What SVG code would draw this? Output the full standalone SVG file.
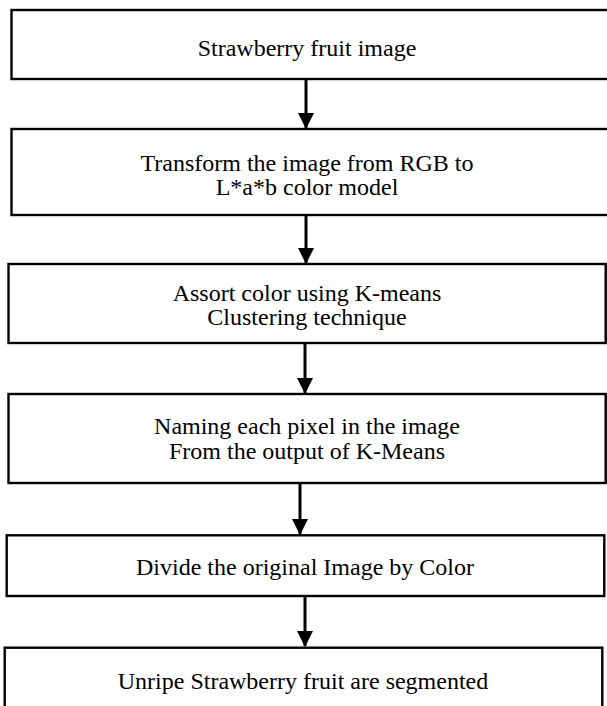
<svg xmlns="http://www.w3.org/2000/svg" width="607" height="706" viewBox="0 0 607 706">
  <defs>
    <style>
      .box { fill: #ffffff; stroke: #000000; stroke-width: 2.4; }
      .lbl { font-family: "Liberation Serif", "Times New Roman", serif; font-size: 24px; fill: #000000; text-anchor: middle; }
      .edge { stroke: #000000; stroke-width: 3; fill: none; marker-end: url(#head); }
    </style>
    <marker id="head" markerUnits="userSpaceOnUse" markerWidth="16" markerHeight="16" viewBox="0 0 16 16" refX="15" refY="8" orient="auto">
      <path d="M0,0 L16,8 L0,16 Z" fill="#000000"/>
    </marker>
  </defs>
  <rect width="607" height="706" fill="#ffffff"/>

  <g id="connectors">
    <line class="edge" x1="306" y1="79" x2="306" y2="128"/>
    <line class="edge" x1="306" y1="215" x2="306" y2="263"/>
    <line class="edge" x1="305" y1="343" x2="305" y2="393"/>
    <line class="edge" x1="300" y1="483" x2="300" y2="534"/>
    <line class="edge" x1="305" y1="596" x2="305" y2="646"/>
  </g>

  <g id="node-input">
    <rect class="box" x="11.5" y="10" width="600" height="69"/>
    <text class="lbl" x="307" y="56">Strawberry fruit image</text>
  </g>

  <g id="node-transform">
    <rect class="box" x="11.5" y="129" width="600" height="86"/>
    <text class="lbl" x="307" y="171">Transform the image from RGB to</text>
    <text class="lbl" x="307" y="195">L*a*b color model</text>
  </g>

  <g id="node-kmeans">
    <rect class="box" x="8.5" y="264" width="597.2" height="79"/>
    <text class="lbl" x="307" y="301">Assort color using K-means</text>
    <text class="lbl" x="307" y="325">Clustering technique</text>
  </g>

  <g id="node-label">
    <rect class="box" x="8.5" y="394" width="597.2" height="89"/>
    <text class="lbl" x="307" y="434">Naming each pixel in the image</text>
    <text class="lbl" x="307" y="459">From the output of K-Means</text>
  </g>

  <g id="node-divide">
    <rect class="box" x="6.7" y="535.3" width="597.6" height="60.7"/>
    <text class="lbl" x="305" y="575">Divide the original Image by Color</text>
  </g>

  <g id="node-result">
    <rect class="box" x="4.7" y="647.7" width="597.6" height="62"/>
    <text class="lbl" x="303" y="689">Unripe Strawberry fruit are segmented</text>
  </g>
</svg>
